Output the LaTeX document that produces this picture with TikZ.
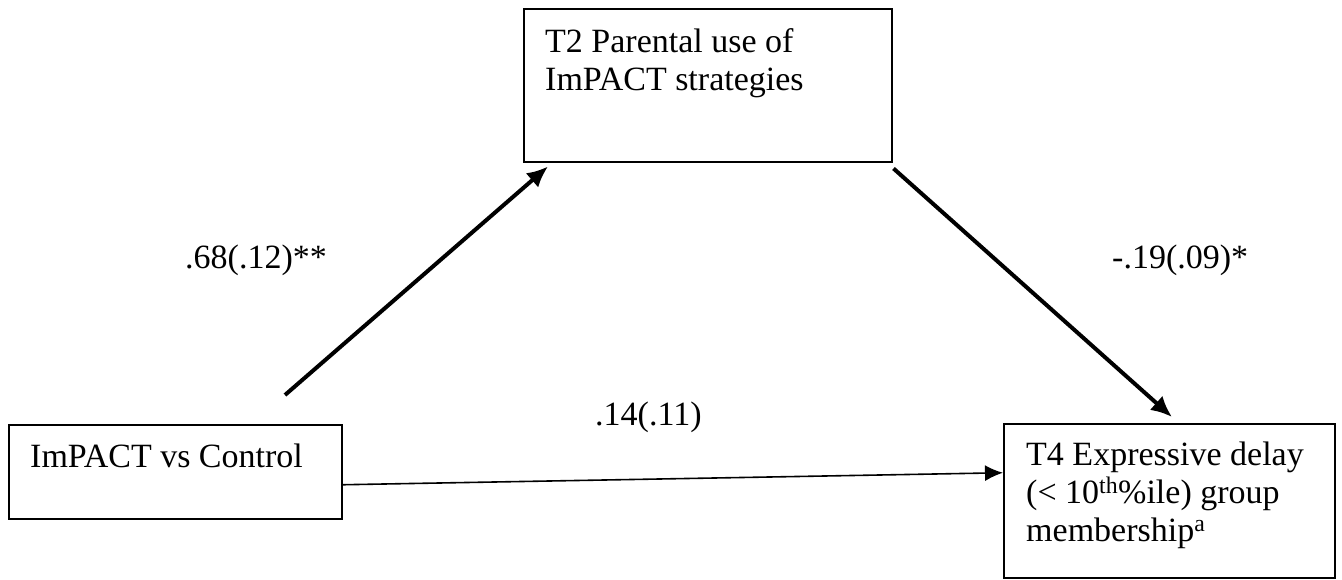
\documentclass[tikz,border=0pt]{standalone}
\usepackage{fontspec}
\setmainfont{Liberation Serif}
\usetikzlibrary{arrows.meta}
\begin{document}
\begin{tikzpicture}[x=1pt,y=-1pt,
  box/.style={draw, line width=1.5pt, inner sep=0pt, anchor=north west},
  txt/.style={anchor=base west, inner sep=0pt, font=\fontsize{34}{38}\selectfont},
  lbl/.style={anchor=base west, inner sep=0pt, font=\fontsize{34}{38}\selectfont},
  thick arrow/.style={line width=4pt, -{Latex[length=21pt,width=19pt]}},
  thin arrow/.style={line width=1.6pt, -{Latex[length=18pt,width=16pt]}}]
\useasboundingbox (0,0) rectangle (1342,579);
% boxes
\node[box, minimum width=333pt, minimum height=94pt] (x) at (8,424) {};
\node[box, minimum width=368pt, minimum height=153pt] (m) at (523,8) {};
\node[box, minimum width=331pt, minimum height=154pt] (y) at (1003,423) {};
% box texts
\node[txt] (xt) at (30,467) {ImPACT vs Control};
\node[txt] (mt1) at (545,52) {T2 Parental use of};
\node[txt] (mt2) at (545,90) {ImPACT strategies};
\node[txt] (yt1) at (1026,465) {T4 Expressive delay};
\node[txt] (yt2) at (1026,503) {(< 10\textsuperscript{th}\%ile) group};
\node[txt] (yt3) at (1026,541) {membership\textsuperscript{a}};
% connectors
\coordinate (a1s) at (285,395);
\draw[thick arrow] (a1s) -- ([shift={(25,4)}]m.south west);
\draw[thick arrow] ([shift={(1,6)}]m.south east) -- ([shift={(169,-6)}]y.north west);
\draw[thin arrow] ([shift={(0,13)}]x.east) -- ([shift={(0,-28)}]y.west);
% path labels
\node[lbl] (la) at (185,268) {.68(.12)**};
\node[lbl] (lb) at (1112,268) {-.19(.09)*};
\node[lbl] (lc) at (595,425) {.14(.11)};
\end{tikzpicture}
\end{document}
